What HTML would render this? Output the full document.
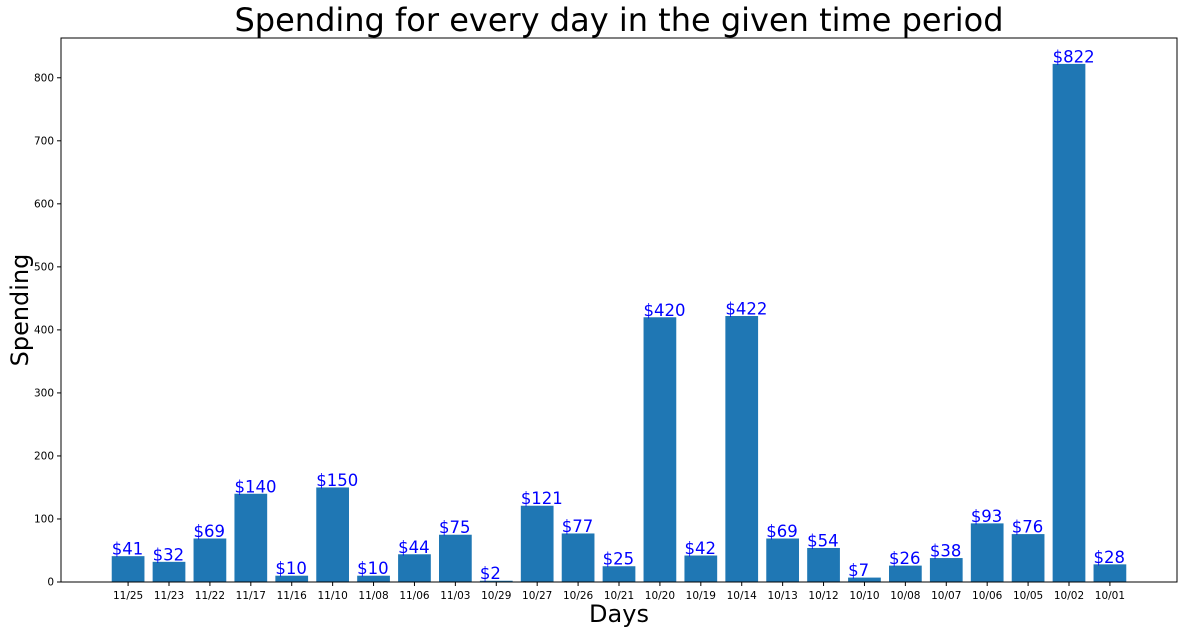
<!DOCTYPE html>
<html><head><meta charset="utf-8"><style>
body{margin:0;background:#fff;width:1184px;height:634px;overflow:hidden}
text{font-family:"DejaVu Sans","Liberation Sans",sans-serif}
</style></head><body>
<svg id="chart" width="1184" height="634" xmlns="http://www.w3.org/2000/svg">
<text x="619" y="31" font-size="32" text-anchor="middle">Spending for every day in the given time period</text>
<g id="bars"></g>
<g id="axes"></g>
<text x="619" y="622" font-size="24" text-anchor="middle">Days</text>
<text transform="translate(28,310) rotate(-90)" font-size="24" text-anchor="middle">Spending</text>
</svg>
<script>
const categories=["11/25","11/23","11/22","11/17","11/16","11/10","11/08","11/06","11/03","10/29","10/27","10/26","10/21","10/20","10/19","10/14","10/13","10/12","10/10","10/08","10/07","10/06","10/05","10/02","10/01"];
const values=[41,32,69,140,10,150,10,44,75,2,121,77,25,420,42,422,69,54,7,26,38,93,76,822,28];
const yTicks=[0,100,200,300,400,500,600,700,800];
const L=61,R=1177,T=38,B=582;
const n=categories.length;
const xmin=-0.4-0.05*(n-1+0.8),xmax=n-1+0.4+0.05*(n-1+0.8);
const ymax=Math.max(...values)*1.05;
function xs(v){return L+(v-xmin)/(xmax-xmin)*(R-L);}
function ys(v){return B-v/ymax*(B-T);}
const NS="http://www.w3.org/2000/svg";
const bars=document.getElementById('bars'),axes=document.getElementById('axes');
function mk(tag,attrs,parent){const e=document.createElementNS(NS,tag);for(const k in attrs)e.setAttribute(k,attrs[k]);parent.appendChild(e);return e;}
categories.forEach((c,i)=>{
 const x0=xs(i-0.4),x1=xs(i+0.4),y=ys(values[i]);
 const r=mk('rect',{x:x0,y:y,width:x1-x0,height:B-y,fill:'#1f77b4'},bars);
 
 
 const t=mk('text',{x:x0,y:y-1.5,'font-size':16.5,fill:'blue'},bars);
 t.textContent='$'+values[i];
 
 
 const tk=mk('line',{x1:xs(i),x2:xs(i),y1:B,y2:B+4,stroke:'#000','stroke-width':1},axes);
 
 
 const tl=mk('text',{x:xs(i),y:B+17,'font-size':10.5,'text-anchor':'middle'},axes);
 tl.textContent=c;
 
 
});
yTicks.forEach(v=>{
 const y=ys(v);
 const tk=mk('line',{x1:L-4,x2:L,y1:y,y2:y,stroke:'#000','stroke-width':1},axes);
 
 
 const tl=mk('text',{x:L-7,y:y+3.5,'font-size':10.5,'text-anchor':'end'},axes);
 tl.textContent=v;
 
 
});
const fr=mk('rect',{x:L,y:T,width:R-L,height:B-T,fill:'none',stroke:'#000','stroke-width':1},axes);


</script>
</body></html>
